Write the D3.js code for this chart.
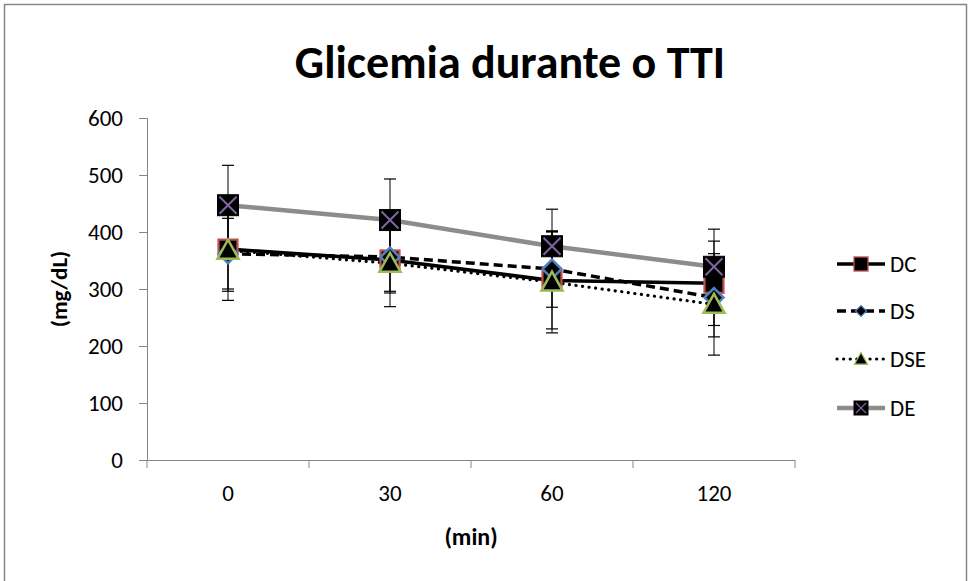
<!DOCTYPE html>
<html><head><meta charset="utf-8">
<script src="https://cdn.jsdelivr.net/npm/d3@7"></script>
<style>body{margin:0;background:#fff}svg{display:block}text{font-family:Carlito,"Open Sans","Liberation Sans",sans-serif}</style>
</head><body>
<svg id="c" width="972" height="581"></svg>
<script>
const categories = ["0","30","60","120"];
const seriesNames = ["DC","DS","DSE","DE"];
const DC  = [370, 351, 315, 310];
const DS  = [362, 356, 335, 285];
const DSE = [368, 345, 312, 273];
const DE  = [447, 421, 375, 339];
const DC_err  = [74, 58, 85, 74];
const DS_err  = [62, 60, 67, 69];
const DSE_err = [88, 76, 89, 89];
const DE_err  = [70, 72, 65, 66];
const yTicks = [0,100,200,300,400,500,600];

const series = seriesNames.map((n,i)=>({name:n, values:[DC,DS,DSE,DE][i], err:[DC_err,DS_err,DSE_err,DE_err][i]}));
const style = {
  DC:{stroke:"#000", width:3.5, dash:null, cap:"butt", marker:"square", mstroke:"#C0504D"},
  DS:{stroke:"#000", width:3.5, dash:"9,5", cap:"butt", marker:"diamond", mstroke:"#4F81BD"},
  DSE:{stroke:"#000", width:3.2, dash:"0.1,6.5", cap:"round", marker:"triangle", mstroke:"#9BBB59"},
  DE:{stroke:"#8C8C8C", width:4.5, dash:null, cap:"butt", marker:"x", mstroke:"#8064A2"}
};
const FONT='Carlito,"Open Sans","Liberation Sans",sans-serif';

const svg = d3.select("#c");
svg.append("rect").attr("x",4.5).attr("y",4.5).attr("width",962).attr("height",600)
  .attr("fill","#fff").attr("stroke","#868686").attr("stroke-width",1.5);

const L=147, R=795, T=118, B=460;
const x = d3.scaleBand().domain(categories).range([L,R]);
const y = d3.scaleLinear().domain([0,600]).range([B,T]);
const cx = c => x(c)+x.bandwidth()/2;

svg.append("text").attr("x",510).attr("y",78).attr("text-anchor","middle")
  .attr("font-size",46).attr("font-weight","bold").attr("fill","#000").text("Glicemia durante o TTI");

const yAx = svg.append("g").attr("transform",`translate(${L},0)`)
  .call(d3.axisLeft(y).tickValues(yTicks).tickSize(8).tickPadding(16));
yAx.attr("font-size",null).attr("font-family",null);
yAx.select(".domain").attr("stroke","#868686");
yAx.selectAll(".tick line").attr("stroke","#868686");
yAx.selectAll(".tick text").attr("font-size",23).attr("fill","#000").style("font-family",FONT);

const xAx = svg.append("g").attr("transform",`translate(0,${B})`)
  .call(d3.axisBottom(x).tickSize(0).tickPadding(25));
xAx.attr("font-size",null).attr("font-family",null);
xAx.select(".domain").attr("stroke","#868686").attr("d",`M${L},0.5H${R}`);
xAx.selectAll(".tick text").attr("font-size",23).attr("fill","#000").style("font-family",FONT);
const bounds = categories.map(c=>x(c)).concat([R]);
svg.append("g").selectAll("line").data(bounds).join("line")
  .attr("x1",d=>d).attr("x2",d=>d).attr("y1",B).attr("y2",B+8).attr("stroke","#868686");

svg.append("text").attr("x",(L+R)/2).attr("y",545).attr("text-anchor","middle")
  .attr("font-size",24).attr("font-weight","bold").text("(min)");
svg.append("text").attr("transform",`translate(67,${(T+B)/2}) rotate(-90)`).attr("text-anchor","middle")
  .attr("font-size",23).attr("font-weight","bold").text("(mg/dL)");

const eg = svg.append("g");
series.forEach(s=>{
  categories.forEach((c,i)=>{
    const v=s.values[i], e=s.err[i], xx=cx(c);
    eg.append("line").attr("x1",xx).attr("x2",xx).attr("y1",y(v+e)).attr("y2",y(v-e)).attr("stroke","#000").attr("stroke-width",1);
    [v+e,v-e].forEach(w=>eg.append("line").attr("x1",xx-6).attr("x2",xx+6).attr("y1",y(w)).attr("y2",y(w)).attr("stroke","#000").attr("stroke-width",1.2));
  });
});

const line = d3.line().x((d,i)=>cx(categories[i])).y(d=>y(d));
series.forEach(s=>{
  const st=style[s.name];
  svg.append("path").datum(s.values).attr("d",line).attr("fill","none")
    .attr("stroke",st.stroke).attr("stroke-width",st.width)
    .attr("stroke-dasharray",st.dash).attr("stroke-linecap",st.cap);
});

function marker(g, type, xx, yy, size, mstroke){
  const h=size/2;
  if(type==="square"){
    g.append("rect").attr("x",xx-h).attr("y",yy-h).attr("width",size).attr("height",size)
      .attr("fill","#000").attr("stroke",mstroke).attr("stroke-width",size>14?2.2:1.3);
  } else if(type==="diamond"){
    g.append("path").attr("d",`M${xx},${yy-h}L${xx+h},${yy}L${xx},${yy+h}L${xx-h},${yy}Z`)
      .attr("fill","#000").attr("stroke",mstroke).attr("stroke-width",size>14?2.5:1.2);
  } else if(type==="triangle"){
    g.append("path").attr("d",`M${xx},${yy-h}L${xx+h},${yy+h*0.8}L${xx-h},${yy+h*0.8}Z`)
      .attr("fill","#000").attr("stroke",mstroke).attr("stroke-width",size>14?2.5:1.2);
  } else {
    g.append("rect").attr("x",xx-h).attr("y",yy-h).attr("width",size).attr("height",size)
      .attr("fill","#000").attr("stroke","#000").attr("stroke-width",1);
    const k=h-2;
    g.append("path").attr("d",`M${xx-k},${yy-k}L${xx+k},${yy+k}M${xx+k},${yy-k}L${xx-k},${yy+k}`)
      .attr("stroke",mstroke).attr("stroke-width",size>14?2:1.2);
  }
}

const mSize={DC:19,DS:19,DSE:21,DE:21};
series.forEach(s=>{
  const g=svg.append("g"), st=style[s.name];
  categories.forEach((c,i)=>marker(g, st.marker, cx(c), y(s.values[i]), mSize[s.name], st.mstroke));
});

const legY=[264,311,359,408];
const lmSize={DC:14,DS:11,DSE:13,DE:14};
series.forEach((s,i)=>{
  const st=style[s.name], g=svg.append("g"), yy=legY[i];
  g.append("line").attr("x1",837).attr("x2",885).attr("y1",yy).attr("y2",yy)
    .attr("stroke",st.stroke).attr("stroke-width",st.width)
    .attr("stroke-dasharray",st.dash).attr("stroke-linecap",st.cap);
  marker(g, st.marker, 861, yy, lmSize[s.name], st.mstroke);
  g.append("text").attr("x",890).attr("y",yy+8).attr("font-size",23).text(s.name);
});
</script>
</body></html>
